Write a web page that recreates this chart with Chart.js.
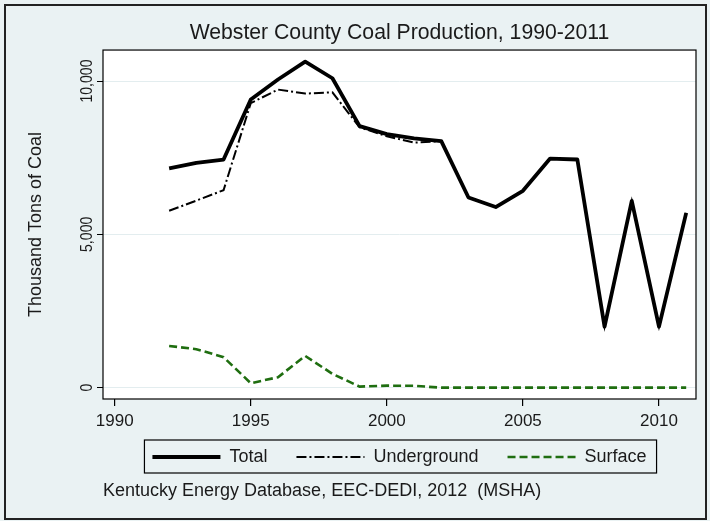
<!DOCTYPE html>
<html>
<head>
<meta charset="utf-8">
<script src="https://cdn.jsdelivr.net/npm/chart.js@4.4.1/dist/chart.umd.min.js"></script>
<style>
  html, body { margin: 0; padding: 0; background: #eaf2f3; }
  canvas { display: block; }
</style>
</head>
<body>
<canvas id="coal" width="710" height="521"></canvas>
<script>
//------------- DATA -----------------

const years = [1992, 1993, 1994, 1995, 1996, 1997, 1998, 1999, 2000, 2001,
               2002, 2003, 2004, 2005, 2006, 2007, 2008, 2009, 2010, 2011];

const total = [7150, 7330, 7440, 9400, 10050, 10630, 10090, 8530, 8270, 8130,
               8040, 6200, 5890, 6420, 7470, 7440, 1990, 6090, 1990, 5700];

const underground = [5770, 6100, 6440, 9280, 9720, 9590, 9630, 8490, 8200, 7990,
                     8040, 6200, 5890, 6420, 7470, 7440, 1990, 6090, 1990, 5700];

const surface = [1360, 1255, 995, 145, 340, 1035, 450, 35, 65, 60,
                 0, 0, 0, 0, 0, 0, 0, 0, 0, 0];

const xTicks = [1990, 1995, 2000, 2005, 2010];
const yTicks = [0, 5000, 10000];
const yTickLabels = ["0", "5,000", "10,000"];

const FONT = "'Liberation Sans', Arial, Helvetica, sans-serif";
const INK = "#1a1a1a";

function points(values) {
  return years.map((yr, i) => ({x: yr, y: values[i]}));
}

//------------- DRAWING HELPERS -----------------

const frame = {
  id: "frame",
  beforeDraw(chart) {
    const ctx = chart.ctx;
    const a = chart.chartArea;
    ctx.save();
    ctx.fillStyle = "#eaf2f3";
    ctx.fillRect(0, 0, chart.width, chart.height);
    ctx.fillStyle = "#ffffff";
    ctx.fillRect(a.left, a.top, a.right - a.left, a.bottom - a.top);
    ctx.strokeStyle = "#222";
    ctx.lineWidth = 2;
    ctx.strokeRect(5, 5, chart.width - 9, chart.height - 7);
    ctx.restore();
  },
  afterDraw(chart) {
    const ctx = chart.ctx;
    const a = chart.chartArea;
    ctx.save();
    // plot box
    ctx.strokeStyle = "#000";
    ctx.lineWidth = 1.2;
    ctx.strokeRect(a.left, a.top, a.right - a.left, a.bottom - a.top);

    ctx.fillStyle = INK;
    ctx.textAlign = "center";
    ctx.textBaseline = "middle";

    // x tick labels
    ctx.font = "17px " + FONT;
    const xs = chart.scales.x;
    xTicks.forEach((v) => {
      ctx.fillText(String(v), xs.getPixelForValue(v), a.bottom + 22);
    });

    // y tick labels, turned and a bit narrow like the original
    const ys = chart.scales.y;
    yTicks.forEach((v, i) => {
      ctx.save();
      ctx.translate(a.left - 16, ys.getPixelForValue(v));
      ctx.rotate(-Math.PI / 2);
      ctx.scale(0.83, 1);
      ctx.fillText(yTickLabels[i], 0, 0);
      ctx.restore();
    });

    // box round the legend
    const hb = chart.legend.legendHitBoxes;
    if (hb && hb.length) {
      const left = hb[0].left - 8;
      const last = hb[hb.length - 1];
      const right = last.left + last.width + 10;
      const mid = hb[0].top + hb[0].height / 2;
      ctx.strokeStyle = "#000";
      ctx.lineWidth = 1.2;
      ctx.strokeRect(left, mid - 17, right - left, 33);
    }
    ctx.restore();
  }
};

//------------- CHART -----------------

const ctx = document.getElementById("coal");
const chart = new Chart(ctx, {
  type: "line",
  data: {
    datasets: [{
      label: "Total",
      data: points(total),
      borderColor: "#000000",
      backgroundColor: "#000000",
      borderWidth: 3.8,
      borderJoinStyle: "round",
      pointRadius: 0,
      tension: 0
    }, {
      label: "Underground",
      data: points(underground),
      borderColor: "#000000",
      backgroundColor: "#000000",
      borderWidth: 2,
      borderDash: [10, 3, 2, 3],
      pointRadius: 0,
      tension: 0
    }, {
      label: "Surface",
      data: points(surface),
      borderColor: "#1f6e10",
      backgroundColor: "#1f6e10",
      borderWidth: 2.6,
      borderDash: [8, 4],
      pointRadius: 0,
      tension: 0
    }]
  },
  options: {
    responsive: false,
    animation: false,
    devicePixelRatio: 1,
    layout: {padding: {left: 20, right: 14, top: 10, bottom: 19.2}},
    scales: {
      x: {
        type: "linear",
        min: 1989.57,
        max: 2011.36,
        afterBuildTicks: (s) => { s.ticks = xTicks.map(v => ({value: v})); },
        afterFit: (s) => { s.height = 20; },
        grid: {drawOnChartArea: false, drawTicks: true, tickLength: 7, tickColor: "#000", lineWidth: 1.2},
        border: {display: false},
        ticks: {display: false}
      },
      y: {
        min: -370,
        max: 11010,
        afterBuildTicks: (s) => { s.ticks = yTicks.map(v => ({value: v})); },
        afterFit: (s) => { s.width = 83; },
        grid: {color: "#e3edef", lineWidth: 1, drawTicks: true, tickLength: 6, tickColor: "#000"},
        border: {display: false},
        ticks: {display: false},
        title: {
          display: true,
          text: "Thousand Tons of Coal",
          color: INK,
          font: {family: FONT, size: 18},
          padding: {top: 5, bottom: 0}
        }
      }
    },
    plugins: {
      title: {
        display: true,
        fullSize: false,
        text: "Webster County Coal Production, 1990-2011",
        color: INK,
        font: {family: FONT, size: 21.2, weight: "normal"},
        padding: {top: 10, bottom: 4.6}
      },
      subtitle: {
        display: true,
        position: "bottom",
        align: "start",
        fullSize: false,
        text: "Kentucky Energy Database, EEC-DEDI, 2012  (MSHA)",
        color: INK,
        font: {family: FONT, size: 18},
        padding: {top: 4.2, bottom: 0}
      },
      legend: {
        position: "bottom",
        fullSize: false,
        labels: {
          color: INK,
          font: {family: FONT, size: 18},
          usePointStyle: true,
          pointStyle: "line",
          pointStyleWidth: 68,
          padding: 29,
          generateLabels: (c) => c.data.datasets.map((ds, i) => ({
            text: ds.label,
            fillStyle: ds.borderColor,
            strokeStyle: ds.borderColor,
            lineWidth: ds.borderWidth,
            lineDash: ds.borderDash || [],
            lineCap: "butt",
            pointStyle: "line",
            fontColor: INK,
            hidden: false,
            datasetIndex: i
          }))
        }
      },
      tooltip: {enabled: false}
    }
  },
  plugins: [frame]
});
</script>
</body>
</html>
